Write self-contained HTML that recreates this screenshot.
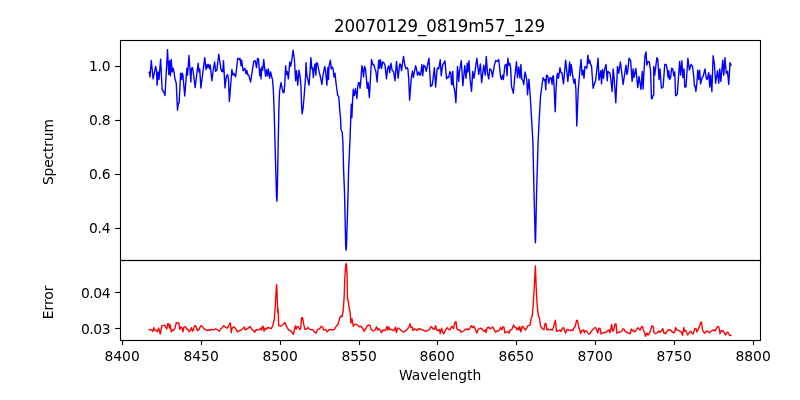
<!DOCTYPE html>
<html><head><meta charset="utf-8"><title>20070129_0819m57_129</title>
<style>
html,body{margin:0;padding:0;background:#fff;}
svg{display:block;will-change:transform;}
text{font-family:"DejaVu Sans","Liberation Sans",sans-serif;fill:#000;}
</style></head><body>
<svg width="800" height="400" viewBox="0 0 800 400">
<rect x="0" y="0" width="800" height="400" fill="#fff"/>

<polyline fill="none" stroke="#0000ff" stroke-width="1.39" stroke-linejoin="round" points="148.75,73.25 149.38,72.00 150.00,77.00 151.25,60.50 153.12,78.88 155.62,66.38 156.50,70.12 157.12,85.12 158.12,72.00 159.00,79.50 160.62,59.25 162.12,89.50 163.75,92.00 165.00,95.50 167.50,49.75 168.75,74.50 169.62,60.75 170.38,75.75 171.25,59.50 172.12,72.00 173.12,68.25 174.00,72.00 175.00,78.88 176.25,83.25 177.12,102.00 177.50,110.12 178.25,104.25 179.12,102.62 180.62,73.25 181.50,79.50 182.12,73.25 182.88,74.75 184.75,96.00 186.88,68.25 187.50,75.12 189.00,55.50 190.88,82.00 191.50,68.25 192.50,67.62 193.75,75.75 195.12,87.62 198.12,63.25 199.00,72.00 199.75,68.88 200.88,88.00 204.75,57.62 206.00,69.50 207.12,64.50 207.88,67.62 208.75,64.50 209.62,68.88 210.25,65.12 211.88,80.75 213.12,70.75 214.62,62.00 215.62,71.38 216.88,70.12 218.75,54.25 220.88,68.88 221.88,71.38 222.75,71.75 223.50,60.75 225.00,88.00 226.25,77.00 227.50,74.50 228.50,79.50 229.38,101.38 231.88,69.50 232.88,75.12 233.75,73.25 235.62,77.00 237.75,58.25 239.00,59.50 240.00,58.25 241.00,65.75 241.62,60.12 243.12,70.75 244.38,68.88 245.00,68.25 246.00,73.88 246.88,70.50 247.75,74.75 248.75,75.12 250.62,82.00 253.75,61.38 255.25,60.75 256.50,67.62 257.50,58.50 258.50,58.88 259.75,75.75 260.62,68.88 261.00,78.88 261.88,67.00 262.75,70.12 263.75,59.50 264.75,68.88 265.62,76.38 266.50,69.75 267.50,75.75 268.38,68.88 269.62,78.25 270.62,72.00 271.88,77.62 272.50,79.50 273.40,91.00 274.20,113.00 275.20,150.00 276.50,196.00 276.90,201.30 277.20,196.00 278.10,150.00 278.80,113.00 279.20,100.00 279.60,91.00 281.00,82.62 282.12,88.25 283.12,92.62 284.00,92.62 284.75,84.50 285.62,65.75 286.50,74.50 287.25,71.38 288.38,78.88 289.75,62.00 290.62,66.38 291.50,62.00 293.12,50.12 294.38,59.50 295.62,80.75 296.50,70.75 297.75,85.12 299.00,70.12 300.00,75.75 300.88,84.50 301.50,103.25 302.12,113.88 303.12,108.25 304.38,93.25 305.62,75.75 306.00,62.62 306.88,75.75 307.88,79.50 309.00,85.12 310.00,72.00 310.88,57.62 311.88,68.88 312.50,67.62 313.38,77.62 314.12,68.88 315.00,63.88 315.88,75.12 316.50,62.62 317.50,63.25 318.75,70.12 320.00,75.12 321.00,79.50 321.88,84.50 323.12,74.50 324.75,66.38 325.62,71.38 326.88,85.12 327.88,67.62 328.50,79.50 329.00,66.38 330.38,60.12 331.25,68.88 332.12,67.00 333.12,68.88 334.00,77.00 335.00,73.25 335.88,82.00 336.88,89.50 337.75,95.75 338.75,96.38 339.62,108.25 340.62,119.50 341.00,129.50 342.20,132.00 342.90,142.00 343.60,170.00 344.50,192.00 345.70,246.00 346.10,250.30 346.50,246.00 348.10,192.00 348.60,170.00 349.90,142.00 351.00,112.00 351.30,104.30 351.90,117.50 352.60,100.00 353.25,89.25 354.25,95.75 355.50,88.50 356.88,98.50 357.75,86.75 358.50,82.62 359.38,82.62 360.00,88.25 360.62,83.25 361.88,65.75 362.75,68.88 363.50,77.00 364.62,66.38 365.62,69.50 366.50,79.50 367.25,88.25 368.12,82.62 369.38,97.62 371.50,59.50 372.75,64.50 373.75,64.50 375.00,68.88 376.00,72.00 377.12,82.00 378.75,60.12 379.62,68.25 380.38,59.75 381.62,68.50 382.50,62.00 383.75,62.62 385.00,65.12 386.50,78.88 387.50,68.88 388.75,65.75 389.62,72.62 391.00,63.25 392.25,70.75 393.50,71.38 395.00,80.75 396.50,61.38 398.12,78.25 399.75,63.88 400.62,64.50 401.50,70.75 403.50,56.38 405.00,65.75 406.00,68.88 407.12,67.62 407.88,68.88 408.75,79.50 409.62,100.12 411.25,78.25 412.50,71.00 413.38,77.62 414.38,72.00 415.62,65.75 416.50,68.88 417.50,75.12 418.75,72.00 419.75,75.12 420.62,74.75 421.88,64.50 422.75,75.75 423.75,65.12 425.00,66.38 426.25,71.38 427.50,65.12 429.00,58.25 430.62,86.38 431.88,85.75 432.50,83.25 434.38,67.62 435.62,87.00 437.12,68.88 438.12,67.62 438.75,68.88 440.25,59.75 441.25,75.75 442.75,64.50 443.75,63.25 444.75,61.00 445.00,61.00 446.50,78.88 447.75,77.00 448.75,77.62 449.75,71.75 450.88,73.25 451.50,84.50 452.12,84.50 452.75,71.38 453.50,85.75 454.38,88.88 455.00,93.25 455.88,102.62 457.50,66.38 458.75,81.38 459.38,72.00 461.25,60.75 462.88,85.75 464.75,65.50 466.00,78.25 467.25,63.25 467.88,72.00 469.00,60.75 470.00,78.25 471.50,91.38 472.75,71.38 474.00,78.25 475.00,71.38 476.88,58.25 478.75,74.50 480.38,63.88 481.62,82.62 483.75,65.12 485.25,75.12 486.25,56.38 487.50,73.25 488.75,78.88 489.75,68.88 491.25,70.12 492.50,77.00 494.38,65.12 495.62,60.75 497.50,61.38 498.75,59.50 500.62,77.00 501.50,79.25 502.50,75.12 503.38,79.50 505.00,65.12 506.25,64.25 507.12,75.75 507.88,58.25 508.75,65.12 509.75,63.25 510.62,67.62 511.50,86.38 513.38,93.25 514.75,77.00 516.50,61.75 517.50,77.62 518.75,67.00 520.00,78.25 520.88,64.50 521.88,79.50 522.75,80.12 523.75,84.50 525.00,72.00 526.25,77.00 526.88,80.75 527.50,94.75 528.90,79.25 530.30,97.00 531.60,119.50 532.90,142.00 534.00,192.00 535.20,239.00 535.40,242.80 535.60,239.00 536.60,192.00 538.10,142.00 539.20,119.50 540.50,97.00 541.90,85.75 543.10,77.60 544.40,80.50 545.00,79.50 545.75,89.75 546.50,75.12 547.75,75.75 548.75,83.25 550.00,77.62 551.25,78.25 552.12,84.50 552.50,77.00 553.38,75.75 554.00,84.50 555.20,111.75 556.00,90.12 556.88,76.38 557.50,73.25 558.50,78.25 560.00,67.62 561.00,72.62 561.88,72.62 563.50,83.88 565.62,60.12 567.88,81.38 569.62,62.00 570.38,75.75 571.25,64.50 572.75,75.75 574.00,83.25 575.00,78.88 575.88,89.25 576.80,126.00 578.25,89.25 579.75,72.00 581.00,59.50 582.12,75.12 583.12,70.12 584.00,78.25 585.00,66.38 586.88,68.25 587.88,55.12 588.75,63.25 589.75,60.12 590.62,64.50 591.50,65.75 593.12,88.25 594.38,83.88 595.62,80.75 598.12,58.25 599.00,80.12 600.88,70.75 601.50,83.88 602.50,69.50 603.50,78.25 604.38,70.12 606.00,64.50 607.25,80.75 607.88,71.38 610.00,73.25 611.25,83.25 612.12,91.50 613.12,68.88 613.88,75.12 615.80,102.75 617.50,66.38 618.75,73.25 620.38,62.00 621.50,70.75 623.12,84.50 626.00,65.12 626.88,74.50 627.75,71.38 629.00,58.25 630.62,60.75 632.12,81.38 633.12,68.88 634.00,77.62 635.88,68.50 637.75,87.62 639.00,76.38 641.00,89.50 642.25,71.38 643.12,88.88 644.00,70.75 645.00,55.75 646.00,52.00 646.88,65.12 648.12,61.38 649.38,62.00 650.62,72.00 651.50,98.88 652.25,98.25 653.12,95.12 653.75,95.12 653.75,66.38 654.75,75.12 656.88,57.62 657.88,59.50 659.00,79.50 660.00,68.88 661.00,83.25 661.50,88.25 663.12,87.00 664.75,64.50 666.25,64.50 667.25,70.12 668.12,77.62 668.75,70.75 669.62,79.50 670.62,77.62 671.62,68.25 672.75,68.88 673.75,75.75 674.75,72.00 675.62,95.75 677.25,94.50 679.62,61.38 680.62,75.12 681.88,60.75 682.88,77.62 684.00,68.88 684.75,87.00 686.00,87.00 687.88,58.25 689.38,70.12 691.00,64.50 692.50,66.38 693.75,76.38 694.38,85.75 695.00,85.75 695.88,91.38 696.88,83.25 697.75,70.12 698.75,79.50 699.62,70.12 700.62,83.88 701.88,78.25 703.12,76.38 705.00,68.88 706.25,78.25 707.12,79.50 708.75,72.62 709.75,87.00 710.62,75.12 711.88,91.75 713.12,55.75 714.38,63.88 715.62,83.25 717.50,70.75 718.75,83.25 719.75,68.88 720.88,81.38 722.75,60.12 723.75,75.12 725.00,57.62 726.25,73.25 727.50,71.38 728.75,84.50 730.00,62.62 731.25,65.75"/>
<polyline fill="none" stroke="#ff0000" stroke-width="1.39" stroke-linejoin="round" points="148.50,329.00 150.00,330.00 151.88,330.00 152.75,331.50 153.75,327.50 154.75,330.00 156.25,330.62 157.50,331.88 158.50,328.12 159.38,330.00 160.25,334.00 161.88,325.62 163.50,325.62 164.75,325.00 165.62,326.88 166.88,329.00 167.75,323.75 168.75,324.00 169.62,328.12 170.38,325.00 171.25,331.88 172.50,330.00 174.00,330.00 175.00,328.12 176.25,322.75 177.25,323.12 178.75,322.75 179.75,329.38 181.00,326.88 182.12,328.12 182.88,331.88 184.00,326.88 185.62,326.88 186.88,329.38 188.12,329.38 189.00,331.88 190.25,330.62 191.50,327.75 192.50,331.25 193.50,329.38 194.62,325.62 195.62,325.62 196.50,328.12 197.50,330.62 199.00,329.38 200.38,326.50 201.50,325.62 202.75,326.88 204.00,329.00 205.62,329.38 206.88,330.62 208.12,329.75 210.00,330.25 211.88,329.38 213.75,329.75 215.62,328.75 217.50,329.75 219.38,331.25 220.88,328.75 221.88,328.12 223.75,325.62 225.00,326.88 226.25,327.75 227.50,328.12 229.00,325.00 230.38,322.75 231.25,332.50 232.12,328.12 234.00,326.88 235.62,328.50 237.50,331.88 239.38,330.62 241.25,330.00 243.12,328.12 244.38,326.88 245.00,329.75 246.50,329.38 248.12,328.12 250.25,326.50 251.88,329.38 253.12,330.25 254.75,332.25 256.00,329.75 257.50,330.00 259.38,329.38 261.00,328.12 261.50,330.00 262.50,326.50 263.12,326.25 264.00,331.25 265.25,328.12 266.25,329.38 267.25,327.75 268.75,327.75 270.00,328.12 271.25,328.75 272.75,325.62 274.40,318.75 275.30,306.00 276.00,292.00 276.60,284.40 277.20,296.00 277.70,312.50 278.10,308.80 278.75,325.60 280.00,326.25 281.88,325.62 283.12,324.38 285.00,322.50 286.00,325.62 287.50,328.12 288.75,330.00 290.62,330.62 292.25,332.75 293.38,334.38 294.38,330.00 295.38,326.00 296.25,329.00 297.25,326.50 298.50,326.88 299.38,329.38 300.62,329.00 301.50,317.75 302.50,317.75 303.75,324.38 305.00,329.38 306.50,329.00 308.12,327.50 309.75,329.38 311.25,329.75 312.50,329.38 314.38,331.88 316.25,333.12 317.50,329.38 319.38,329.00 321.50,326.25 322.75,327.50 323.75,330.00 325.62,329.38 327.12,331.88 328.75,330.00 330.62,329.38 332.50,330.00 334.38,329.38 336.00,326.50 337.90,324.60 339.75,317.80 341.00,316.25 342.10,316.50 343.30,310.00 344.10,298.00 344.75,279.00 345.60,266.25 346.30,263.50 347.10,276.00 347.50,298.50 348.40,302.00 349.30,309.00 350.00,311.50 351.00,323.10 352.00,318.75 353.25,326.25 354.75,324.40 356.60,324.40 357.90,325.60 359.75,326.90 361.25,326.25 362.90,328.75 364.10,331.25 365.75,328.75 367.25,325.60 369.10,325.00 370.00,325.62 371.25,329.38 373.12,331.00 375.00,330.00 376.50,326.88 377.75,330.00 379.00,328.75 380.62,330.62 381.50,332.75 382.75,330.00 384.38,330.62 386.00,329.38 386.88,326.50 387.75,330.00 388.75,326.88 390.00,329.75 391.50,329.38 393.12,330.62 394.38,330.00 395.38,327.25 396.50,332.50 397.50,328.12 399.00,328.12 400.62,330.00 402.25,331.25 403.75,332.25 405.62,330.62 407.50,329.00 409.00,326.88 410.00,323.75 411.00,327.50 412.25,327.25 413.12,330.62 414.38,329.00 415.62,329.38 416.88,330.62 418.12,329.00 419.38,328.75 421.25,329.38 423.12,330.00 425.00,331.25 426.88,331.00 428.75,330.00 430.00,328.50 431.00,326.50 432.12,327.50 433.12,329.00 434.38,329.38 435.62,325.62 436.62,330.00 438.12,330.62 439.38,329.38 440.25,333.50 441.50,328.12 442.50,331.88 443.75,333.75 445.62,330.00 447.25,327.75 448.75,329.38 450.00,330.00 451.25,326.88 452.25,326.50 453.50,328.75 454.75,323.12 456.00,321.50 456.88,328.75 458.12,330.00 459.75,330.00 461.25,332.25 463.12,331.25 465.00,329.75 466.88,329.00 468.50,329.75 470.00,328.12 471.50,325.62 472.75,327.75 474.00,326.25 475.25,329.00 476.88,333.12 478.12,329.38 479.75,328.50 481.25,328.12 482.50,330.00 484.00,331.25 485.25,329.75 486.00,332.50 487.25,327.75 488.75,327.25 490.00,328.75 491.50,328.12 492.75,326.88 494.00,329.38 495.62,332.25 497.25,330.62 498.75,331.00 500.62,327.50 501.88,329.75 502.75,326.88 504.00,327.25 504.75,332.75 506.25,332.25 507.50,331.50 509.00,333.12 510.25,330.00 511.88,329.38 513.50,325.00 514.75,327.25 516.00,327.50 516.88,329.75 518.12,327.75 519.00,330.00 519.75,326.50 520.88,331.88 522.25,326.25 523.75,327.75 525.25,330.00 526.88,328.12 527.75,325.62 529.00,325.62 530.00,325.00 531.25,318.50 532.20,316.00 533.20,305.00 534.20,288.00 535.40,266.00 536.20,288.00 536.90,301.00 537.50,308.75 538.50,316.25 539.40,317.50 540.60,326.25 542.50,328.75 544.00,329.75 545.00,323.75 546.00,323.50 546.88,330.00 548.12,329.00 549.38,330.00 550.62,329.38 552.50,330.00 553.50,326.88 555.38,320.25 556.50,331.25 558.12,331.00 559.75,330.00 561.00,331.50 562.50,328.12 563.75,327.75 564.75,331.25 565.62,333.12 566.88,329.38 568.50,330.00 570.00,330.62 571.50,329.75 572.75,330.62 573.75,328.12 575.25,326.50 576.50,320.62 577.50,320.25 578.50,326.25 579.75,330.00 580.62,333.50 581.88,330.62 583.50,329.75 584.38,332.75 585.62,330.62 586.88,331.25 588.50,334.00 590.00,333.75 591.50,331.00 593.12,329.38 594.38,328.12 595.62,327.50 596.88,330.62 597.75,333.12 598.75,328.12 600.00,328.50 601.00,333.75 602.75,333.12 604.38,332.50 606.25,332.25 607.50,330.62 609.00,330.00 610.00,332.75 610.62,330.00 611.62,324.38 612.75,331.25 613.75,330.00 614.75,324.38 616.00,323.75 616.88,333.12 618.50,332.25 620.00,332.25 621.50,331.50 622.75,329.00 624.00,329.00 625.00,331.25 626.25,332.25 627.75,332.75 628.75,333.12 630.25,333.75 631.25,329.00 632.50,331.00 633.50,330.00 634.38,331.88 635.62,331.25 636.88,329.00 638.12,327.75 639.38,329.38 640.25,330.00 641.50,326.50 642.50,326.88 643.50,330.62 644.62,332.50 645.62,336.25 646.88,333.12 648.12,335.00 649.38,333.50 650.62,330.00 651.88,326.00 653.12,326.25 654.00,332.50 655.62,333.75 657.25,332.75 658.75,331.00 660.00,332.25 661.25,331.00 662.75,328.50 663.75,332.75 665.62,333.50 666.88,331.88 668.12,330.00 670.00,329.75 671.50,331.00 672.50,332.25 673.75,332.75 674.75,331.88 675.62,327.50 676.88,330.00 678.12,330.25 679.75,331.25 681.25,331.88 682.50,335.25 683.75,327.50 684.62,331.25 685.62,330.62 686.62,332.75 687.75,335.00 689.00,332.75 690.62,331.25 691.88,333.12 693.12,334.00 694.75,328.75 696.00,328.50 696.88,331.88 698.12,329.38 699.38,326.88 700.62,322.50 701.50,322.25 702.50,330.00 703.75,332.25 705.00,333.12 706.50,331.00 708.12,331.50 709.38,332.75 711.00,331.25 712.50,330.25 714.00,330.00 715.00,331.00 716.50,328.12 717.75,326.50 718.75,326.88 720.00,333.75 721.00,330.62 722.12,331.25 723.12,330.62 724.38,333.12 725.62,335.00 726.88,332.25 728.12,332.50 729.38,335.25 730.62,335.62 731.50,335.00"/>
<g fill="none" stroke="#000" stroke-width="1.11" stroke-linecap="square">
<rect x="120.5" y="40.5" width="640" height="220"/>
<rect x="120.5" y="260.5" width="640" height="80"/>
</g>
<g stroke="#000" stroke-width="1.11">
<line x1="122.50" y1="340" x2="122.50" y2="344.9"/>
<line x1="201.50" y1="340" x2="201.50" y2="344.9"/>
<line x1="280.50" y1="340" x2="280.50" y2="344.9"/>
<line x1="359.50" y1="340" x2="359.50" y2="344.9"/>
<line x1="437.50" y1="340" x2="437.50" y2="344.9"/>
<line x1="516.50" y1="340" x2="516.50" y2="344.9"/>
<line x1="595.50" y1="340" x2="595.50" y2="344.9"/>
<line x1="674.50" y1="340" x2="674.50" y2="344.9"/>
<line x1="753.50" y1="340" x2="753.50" y2="344.9"/>
<line x1="115.1" y1="66.50" x2="120" y2="66.50"/>
<line x1="115.1" y1="120.50" x2="120" y2="120.50"/>
<line x1="115.1" y1="174.50" x2="120" y2="174.50"/>
<line x1="115.1" y1="228.50" x2="120" y2="228.50"/>
<line x1="115.1" y1="292.50" x2="120" y2="292.50"/>
<line x1="115.1" y1="328.50" x2="120" y2="328.50"/>
</g>
<g font-size="13.89px">
<text x="122.10" y="361" text-anchor="middle">8400</text>
<text x="201.10" y="361" text-anchor="middle">8450</text>
<text x="280.10" y="361" text-anchor="middle">8500</text>
<text x="359.10" y="361" text-anchor="middle">8550</text>
<text x="437.10" y="361" text-anchor="middle">8600</text>
<text x="516.10" y="361" text-anchor="middle">8650</text>
<text x="595.10" y="361" text-anchor="middle">8700</text>
<text x="674.10" y="361" text-anchor="middle">8750</text>
<text x="753.10" y="361" text-anchor="middle">8800</text>
<text x="110.6" y="71.00" text-anchor="end" textLength="21.7">1.0</text>
<text x="110.6" y="125.00" text-anchor="end" textLength="21.7">0.8</text>
<text x="110.6" y="179.00" text-anchor="end" textLength="21.7">0.6</text>
<text x="110.6" y="233.00" text-anchor="end" textLength="21.7">0.4</text>
<text x="110.6" y="298.00" text-anchor="end" textLength="29.7">0.04</text>
<text x="110.6" y="334.00" text-anchor="end" textLength="29.7">0.03</text>
<text x="440.2" y="380.1" text-anchor="middle">Wavelength</text>
<text transform="translate(53.2,152) rotate(-90)" text-anchor="middle" textLength="66">Spectrum</text>
<text transform="translate(53.2,302.4) rotate(-90)" text-anchor="middle">Error</text>
</g>
<text transform="matrix(1,0,0,1.06,0,32)" x="439.6" y="0" text-anchor="middle" textLength="211.25" font-size="16.67px">20070129_0819m57_129</text>
</svg></body></html>
